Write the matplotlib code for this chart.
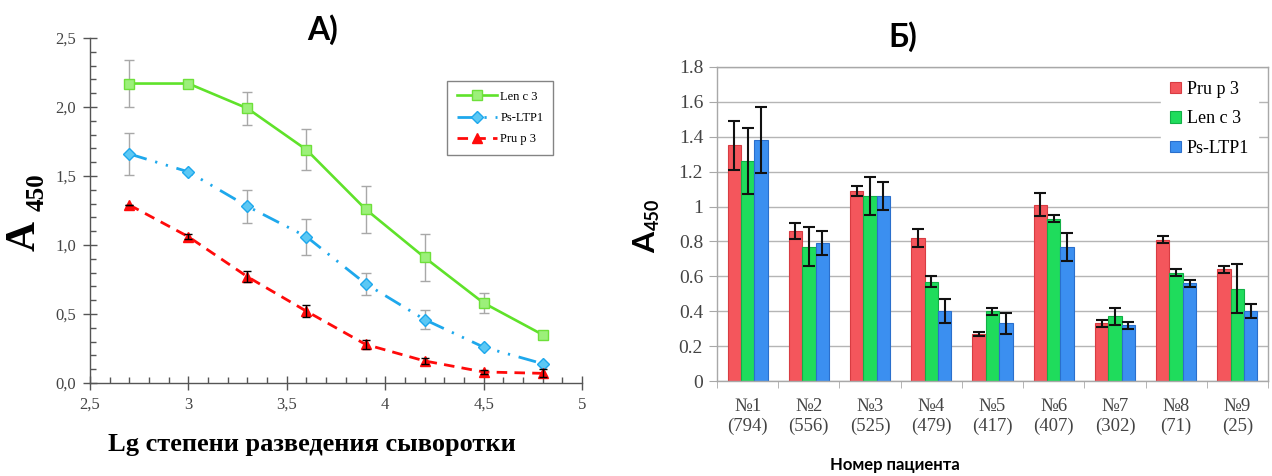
import numpy as np
import matplotlib
matplotlib.use("Agg")
import matplotlib.pyplot as plt
from matplotlib.ticker import MultipleLocator

SERIF = ["Liberation Serif", "DejaVu Serif"]
SANS = ["Lato", "DejaVu Sans"]
plt.rcParams["font.family"] = SERIF

# --- panel A: titration curves ---
lg_dil = [2.7, 3.0, 3.3, 3.6, 3.9, 4.2, 4.5, 4.8]
len_c3 = [2.17, 2.17, 1.99, 1.69, 1.26, 0.91, 0.58, 0.35]
len_c3_err = [0.17, 0.0, 0.12, 0.15, 0.17, 0.17, 0.07, 0.0]
ps_ltp1 = [1.66, 1.53, 1.28, 1.06, 0.72, 0.46, 0.26, 0.14]
ps_ltp1_err = [0.15, 0.0, 0.12, 0.13, 0.08, 0.07, 0.0, 0.0]
pru_p3 = [1.29, 1.06, 0.77, 0.52, 0.28, 0.16, 0.08, 0.07]
pru_p3_err = [0.0, 0.02, 0.04, 0.045, 0.035, 0.02, 0.015, 0.03]
xt_a = [2.5, 3.0, 3.5, 4.0, 4.5, 5.0]
xt_a_lbl = ["2,5", "3", "3,5", "4", "4,5", "5"]
yt_a = [0.0, 0.5, 1.0, 1.5, 2.0, 2.5]
yt_a_lbl = ["0,0", "0,5", "1,0", "1,5", "2,0", "2,5"]

# --- panel B: patients ---
patients = ["№1\n(794)", "№2\n(556)", "№3\n(525)", "№4\n(479)", "№5\n(417)",
            "№6\n(407)", "№7\n(302)", "№8\n(71)", "№9\n(25)"]
b_prup = [1.35, 0.86, 1.09, 0.82, 0.27, 1.01, 0.33, 0.81, 0.64]
b_prup_err = [0.14, 0.045, 0.03, 0.05, 0.01, 0.065, 0.02, 0.02, 0.02]
b_len = [1.26, 0.77, 1.06, 0.57, 0.40, 0.93, 0.37, 0.62, 0.53]
b_len_err = [0.19, 0.11, 0.11, 0.03, 0.02, 0.02, 0.05, 0.02, 0.14]
b_ps = [1.38, 0.79, 1.06, 0.40, 0.33, 0.77, 0.32, 0.56, 0.40]
b_ps_err = [0.19, 0.07, 0.08, 0.07, 0.06, 0.08, 0.02, 0.02, 0.04]
yt_b = [0, 0.2, 0.4, 0.6, 0.8, 1.0, 1.2, 1.4, 1.6, 1.8]
yt_b_lbl = ["0", "0.2", "0.4", "0.6", "0.8", "1", "1.2", "1.4", "1.6", "1.8"]

fig = plt.figure(figsize=(12.72, 4.76), dpi=100)

# ================= A =================
ax = fig.add_axes([90/1272, 1-383/476, 492/1272, 345/476])
green, blue, red = "#5fe22a", "#1ea8ec", "#ff0a0a"
ax.errorbar(lg_dil, len_c3, yerr=len_c3_err, fmt="none", ecolor="#a8a8a8",
            elinewidth=1, capsize=3.5, capthick=1, zorder=2)
ax.errorbar(lg_dil, ps_ltp1, yerr=ps_ltp1_err, fmt="none", ecolor="#a8a8a8",
            elinewidth=1, capsize=3.5, capthick=1, zorder=2)
ax.errorbar(lg_dil, pru_p3, yerr=pru_p3_err, fmt="none", ecolor="black",
            elinewidth=1, capsize=3, capthick=1, zorder=4)
ax.plot(lg_dil, len_c3, color=green, lw=1.9, marker="s", ms=7,
        mfc="#9cf07a", mec="#6ee03a", mew=1, label="Len c 3", zorder=3)
ax.plot(lg_dil, ps_ltp1, color=blue, lw=2.0,
        linestyle=(0, (6.5, 3.2, 0.8, 3.2, 0.8, 3.2)),
        marker="D", ms=6.5, mfc="#5cc8f4", mec=blue, mew=1,
        label="Ps-LTP1", zorder=3)
ax.plot(lg_dil, pru_p3, color=red, lw=2.0, linestyle=(0, (3.8, 2.6)),
        marker="^", ms=6.5, mfc=red, mec=red, label="Pru p 3", zorder=3)
ax.set_xlim(2.5, 5.0)
ax.set_ylim(0, 2.5)
ax.spines["top"].set_visible(False)
ax.spines["right"].set_visible(False)
for s in ("left", "bottom"):
    ax.spines[s].set_color("#555555")
    ax.spines[s].set_linewidth(1.0)
ax.set_xticks(xt_a)
ax.set_xticklabels(xt_a_lbl)
ax.set_yticks(yt_a)
ax.set_yticklabels(yt_a_lbl)
ax.xaxis.set_minor_locator(MultipleLocator(0.1))
ax.yaxis.set_minor_locator(MultipleLocator(0.1))
ax.tick_params(which="major", direction="inout", length=10, width=1,
               color="#555555", labelsize=12, labelcolor="#444444", pad=5)
ax.tick_params(which="minor", direction="in", length=4, width=1, color="#555555")
leg = ax.legend(loc="upper left", bbox_to_anchor=(0.726, 0.875), borderaxespad=0,
                prop={"family": SERIF, "size": 9}, frameon=True, fancybox=False,
                edgecolor="#666666", handlelength=3.2, labelspacing=0.75,
                borderpad=0.75, handletextpad=0.3)
leg.get_frame().set_linewidth(1.0)
fig.text(323/1272, 1-30/476, "А)", family=SANS, weight="bold", size=23,
         ha="center", va="center")
fig.text(312/1272, 1-444/476, "Lg степени разведения сыворотки", family=SERIF,
         weight="bold", size=19, ha="center", va="center")
fig.text(25/1272, 1-236/476, "A", family=SERIF, weight="bold", size=30,
         rotation=90, ha="center", va="center")
fig.text(37/1272, 1-192/476, "450", family=SERIF, weight="bold", size=18,
         rotation=90, ha="center", va="center")

# ================= Б =================
bx = fig.add_axes([717/1272, 1-381/476, 551/1272, 314/476])
x = np.arange(len(patients))
w = 0.218
specs = [(b_prup, b_prup_err, "#f4565c", "#d83c42", "Pru p 3"),
         (b_len, b_len_err, "#1fdc5c", "#12b046", "Len c 3"),
         (b_ps, b_ps_err, "#3b8ff0", "#2a6fcc", "Ps-LTP1")]
for i, (vals, errs, fc, ec, lab) in enumerate(specs):
    bx.bar(x + (i - 1) * w, vals, width=w, color=fc, edgecolor=ec, linewidth=0.8,
           label=lab, zorder=2)
    bx.errorbar(x + (i - 1) * w, vals, yerr=errs, fmt="none", ecolor="#111111",
                elinewidth=1.5, capsize=4, capthick=1.5, zorder=4)
bx.set_xlim(-0.5, len(patients) - 0.5)
bx.set_ylim(0, 1.8)
bx.set_yticks(yt_b)
bx.set_yticklabels(yt_b_lbl)
bx.yaxis.grid(True, color="#b5b5b5", lw=1.0, zorder=0)
bx.set_axisbelow(True)
for s in bx.spines.values():
    s.set_color("#a8a8a8")
    s.set_linewidth(1.0)
bx.set_xticks(x)
bx.set_xticklabels(patients, size=13.5, color="#444444", linespacing=1.25)
bx.set_xticks(np.arange(len(patients) + 1) - 0.5, minor=True)
bx.tick_params(axis="x", which="major", length=0, pad=12)
bx.tick_params(axis="x", which="minor", length=5, color="#a8a8a8", direction="out")
bx.tick_params(axis="y", length=6, color="#a8a8a8", labelsize=14,
               labelcolor="#444444", pad=4)
leg2 = bx.legend(loc="upper right", bbox_to_anchor=(0.982, 0.985), borderaxespad=0,
                 prop={"family": SERIF, "size": 13}, frameon=True, fancybox=False,
                 edgecolor="white", facecolor="white", framealpha=1,
                 handlelength=0.6, handleheight=0.6, labelspacing=0.7,
                 handletextpad=0.3, borderpad=0.5)
fig.text(903/1272, 1-37/476, "Б)", family=SANS, weight="bold", size=23,
         ha="center", va="center")
fig.text(895/1272, 1-465/476, "Номер пациента", family=SANS, weight="bold",
         size=12, ha="center", va="center")
fig.text(646/1272, 1-242/476, "A", family=SANS, weight="bold", size=22,
         rotation=90, ha="center", va="center")
fig.text(653/1272, 1-214/476, "450", family=SANS, weight="bold", size=13,
         rotation=90, ha="center", va="center")

fig.savefig("out.png", dpi=100)
